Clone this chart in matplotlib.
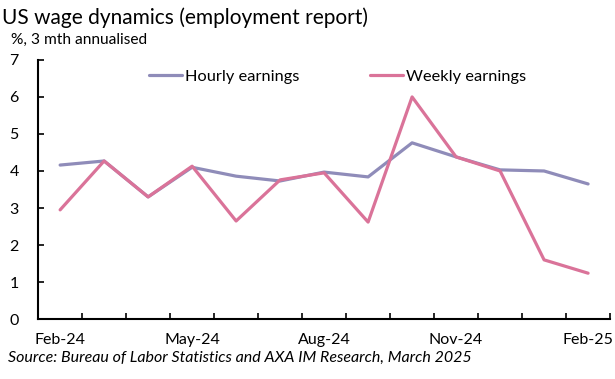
import matplotlib.pyplot as plt
import numpy as np

months = ['Feb-24', 'Mar-24', 'Apr-24', 'May-24', 'Jun-24', 'Jul-24', 'Aug-24',
          'Sep-24', 'Oct-24', 'Nov-24', 'Dec-24', 'Jan-25', 'Feb-25']
hourly = [4.16, 4.27, 3.30, 4.10, 3.86, 3.73, 3.97, 3.84, 4.76, 4.38, 4.03, 4.00, 3.65]
weekly = [2.95, 4.27, 3.30, 4.13, 2.65, 3.76, 3.95, 2.62, 6.00, 4.38, 4.00, 1.60, 1.24]

plt.rcParams['font.family'] = ['Lato', 'DejaVu Sans']

fig = plt.figure(figsize=(6.15, 3.79), dpi=100)
ax = fig.add_axes([0.062, 0.158, 0.930, 0.684])

x = np.arange(len(months))
ax.plot(x, hourly, color='#8F8CB9', lw=2.3, label='Hourly earnings', solid_capstyle='round')
ax.plot(x, weekly, color='#DA7399', lw=2.3, label='Weekly earnings', solid_capstyle='round')

ax.set_xlim(-0.5, len(months) - 0.5)
ax.set_ylim(0, 7)
ax.set_yticks(range(0, 8))
ax.tick_params(axis='y', direction='in', length=4, width=1.2, labelsize=11.5, pad=14, colors='black')

# category axis: tick marks between categories, labels every 3 months
ax.set_xticks(np.arange(-0.5, len(months), 1.0), minor=True)
ax.set_xticks(x[::3])
ax.set_xticklabels(months[::3])
ax.tick_params(axis='x', which='major', length=0, labelsize=11.5, pad=10)
ax.tick_params(axis='x', which='minor', direction='in', length=4, width=1.2)

for s in ['top', 'right']:
    ax.spines[s].set_visible(False)
for s in ['left', 'bottom']:
    ax.spines[s].set_linewidth(1.5)

ax.legend(loc='upper left', bbox_to_anchor=(0.168, 1.02), ncol=2, frameon=False,
          fontsize=11.8, handlelength=2.0, handletextpad=0.2, columnspacing=4.3)

fig.text(0.003, 0.952, 'US wage dynamics (employment report)', fontsize=15, va='center')
fig.text(0.018, 0.895, '%, 3 mth annualised', fontsize=11.2, va='center')
fig.text(0.013, 0.055, 'Source: Bureau of Labor Statistics and AXA IM Research, March 2025',
         fontsize=11.5, style='italic', va='center')

fig.savefig('out.png', dpi=100)
